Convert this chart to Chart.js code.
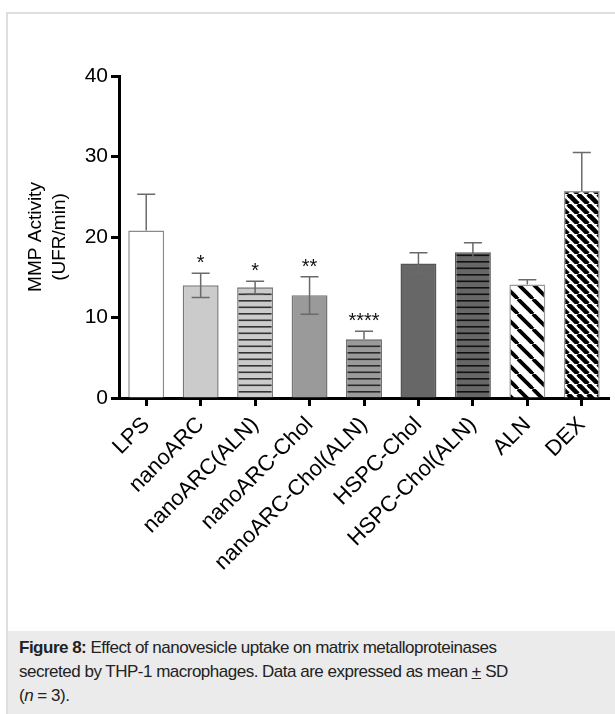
<!DOCTYPE html>
<html>
<head>
<meta charset="utf-8">
<script src="https://cdn.jsdelivr.net/npm/chart.js@4.4.0/dist/chart.umd.min.js"></script>
<style>
  body { margin: 0; background: #fff; font-family: "Liberation Sans", Arial, sans-serif; }
  #frame { position: absolute; left: 6px; top: 12px; width: 609px; height: 702px;
           border-left: 2px solid #dedede; border-top: 2px solid #dedede; box-sizing: border-box; }
  #chartBox { position: absolute; left: 0; top: 0; width: 607px; height: 616px; }
  #caption { position: absolute; left: 0; top: 617px; right: 0; bottom: 0; background: #ebebeb;
             padding: 5px 0 0 11px; font-size: 17px; letter-spacing: -0.5px; line-height: 24px; color: #222; }
  #caption div { width: 505px; }
</style>
</head>
<body>
<div id="frame">
  <div id="chartBox"><canvas id="mmpChart" width="607" height="616"></canvas></div>
  <div id="caption"><div><b>Figure 8:</b> Effect of nanovesicle uptake on matrix metalloproteinases secreted by THP-1 macrophages. Data are expressed as mean <u>+</u> SD (<i>n</i> = 3).</div></div>
</div>
<script>
// Values
const groups = ['LPS', 'nanoARC', 'nanoARC(ALN)', 'nanoARC-Chol', 'nanoARC-Chol(ALN)', 'HSPC-Chol', 'HSPC-Chol(ALN)', 'ALN', 'DEX'];
const means = [20.8, 14.0, 13.75, 12.75, 7.3, 16.7, 18.1, 14.1, 25.7];
const errUp = [4.5, 1.5, 0.75, 2.3, 1.0, 1.35, 1.2, 0.6, 4.8];
const errDown = [0, 1.5, 0.8, 2.35, 0, 1.2, 0.8, 0, 0];
const stars = ['', '*', '*', '**', '****', '', '', '', ''];
const yTicks = [0, 10, 20, 30, 40];

// Fill patterns
function horizStripes(bg, line) {
  const c = document.createElement('canvas');
  c.width = 8; c.height = 13;
  const g = c.getContext('2d');
  g.fillStyle = bg; g.fillRect(0, 0, 8, 13);
  g.fillStyle = line;
  g.fillRect(0, 0, 8, 1.6);
  g.fillRect(0, 6.5, 8, 1.6);
  return g.createPattern(c, 'repeat');
}

function diagStripes(bg, line, s, w) {
  const c = document.createElement('canvas');
  c.width = s; c.height = s;
  const g = c.getContext('2d');
  g.fillStyle = bg; g.fillRect(0, 0, s, s);
  g.strokeStyle = line; g.lineWidth = w;
  [-s, 0, s].forEach(k => {
    g.beginPath(); g.moveTo(k, 0); g.lineTo(k + s, s); g.stroke();
  });
  return g.createPattern(c, 'repeat');
}

const fills = [
  '#ffffff',
  '#cbcbcb',
  horizStripes('#cbcbcb', '#333333'),
  '#9a9a9a',
  horizStripes('#9a9a9a', '#2a2a2a'),
  '#676767',
  horizStripes('#676767', '#111111'),
  diagStripes('#ffffff', '#000000', 15, 3.8),
  diagStripes('#ffffff', '#000000', 10, 4.6),
];
const borders = ['#8a8a8a', '#7a7a7a', '#7a7a7a', '#777', '#666', '#555', '#555', '#999', '#999'];

// Error bars and significance marks
const errorBars = {
  id: 'errorBars',
  afterDatasetsDraw(chart) {
    const ctx = chart.ctx;
    const y = chart.scales.y;
    const meta = chart.getDatasetMeta(0);
    ctx.save();
    ctx.strokeStyle = '#6a6a6a';
    ctx.lineWidth = 1.5;
    meta.data.forEach((bar, i) => {
      const top = y.getPixelForValue(means[i] + errUp[i]);
      const bot = y.getPixelForValue(means[i] - errDown[i]);
      ctx.beginPath();
      ctx.moveTo(bar.x, top); ctx.lineTo(bar.x, bot);
      ctx.moveTo(bar.x - 9, top); ctx.lineTo(bar.x + 9, top);
      if (errDown[i] > 0) { ctx.moveTo(bar.x - 9, bot); ctx.lineTo(bar.x + 9, bot); }
      ctx.stroke();
      if (stars[i]) {
        ctx.fillStyle = '#111';
        ctx.font = '20px "Liberation Sans", Arial, sans-serif';
        ctx.textAlign = 'center';
        ctx.textBaseline = 'alphabetic';
        ctx.fillText(stars[i], bar.x, top - 4);
      }
    });
    ctx.restore();
  }
};

new Chart(document.getElementById('mmpChart'), {
  type: 'bar',
  data: {
    labels: groups,
    datasets: [{
      data: means,
      backgroundColor: fills,
      borderColor: borders,
      borderWidth: 1.5,
      categoryPercentage: 1,
      barPercentage: 0.66,
    }],
  },
  options: {
    responsive: false,
    animation: false,
    layout: { padding: { top: 62, right: 6, left: 16, bottom: 0 } },
    plugins: { legend: { display: false }, tooltip: { enabled: false } },
    scales: {
      x: {
        offset: true,
        grid: { offset: false, drawOnChartArea: false, drawTicks: true, tickLength: 8, tickWidth: 3, tickColor: '#000' },
        border: { color: '#000', width: 3 },
        ticks: { color: '#000', font: { family: '"Liberation Sans", Arial', size: 22 }, minRotation: 45, maxRotation: 45, padding: 6 },
        afterFit(scale) { scale.height = 616 - 384; },
      },
      y: {
        min: 0,
        max: 40,
        afterBuildTicks(scale) { scale.ticks = yTicks.map(v => ({ value: v })); },
        grid: { drawOnChartArea: false, drawTicks: true, tickLength: 8, tickWidth: 3, tickColor: '#000' },
        border: { color: '#000', width: 3 },
        ticks: { color: '#000', font: { family: '"Liberation Sans", Arial', size: 21 }, padding: 3 },
        title: { display: true, text: ['MMP Activity', '(UFR/min)'], color: '#000',
                 font: { family: '"Liberation Sans", Arial', size: 19, lineHeight: 1.25 }, padding: 0 },
        afterFit(scale) { scale.width = 95; },
      },
    },
  },
  plugins: [errorBars],
});
</script>
</body>
</html>
